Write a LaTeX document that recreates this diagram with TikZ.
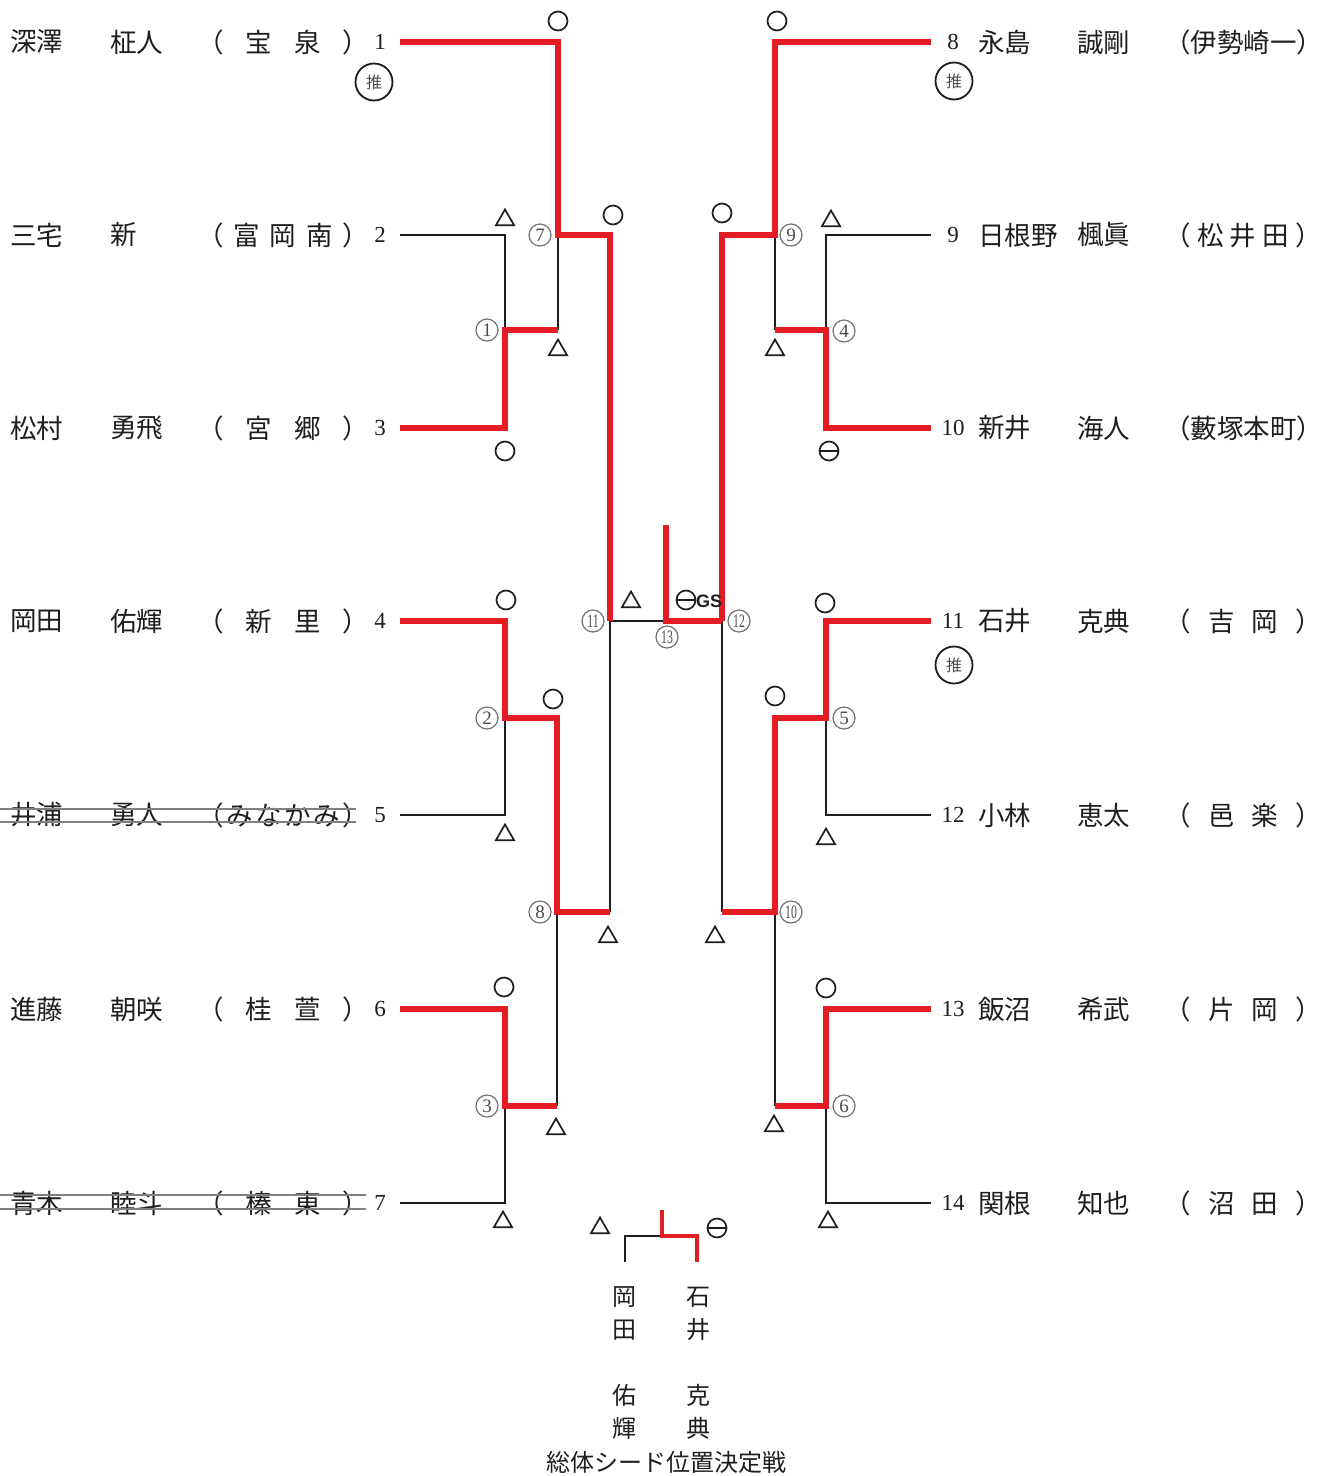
\documentclass[tikz,border=0pt]{standalone}
\usepackage{fontspec}
\usepackage{graphicx}
\setmainfont{Liberation Serif}
\newfontfamily\jp{Noto Sans CJK JP}
\newfontfamily\lsans{Liberation Sans}
\usetikzlibrary{shapes.geometric}
\definecolor{bred}{RGB}{228,28,36}
\definecolor{bgray}{RGB}{30,30,30}
\newcommand{\sch}[1]{\makebox[166pt][s]{#1\kern-6pt}}
\newcommand{\schR}[1]{\makebox[155pt][s]{#1\kern-3pt}}
\newcommand{\dd}[1]{\scalebox{0.62}[1]{#1}}
\tikzset{
  redln/.style={draw=bred,line width=6pt,line join=miter,line cap=butt},
  blkln/.style={draw=bgray,line width=1.9pt,line join=miter},
  win/.style={circle,draw=bgray,line width=1.7pt,minimum size=19pt,inner sep=0pt},
  lose/.style={regular polygon,regular polygon sides=3,draw=bgray,line width=1.7pt,minimum size=21pt,inner sep=0pt},
  drawmark/.style={circle,draw=bgray,line width=1.7pt,minimum size=19pt,inner sep=0pt,
     path picture={\draw[bgray,line width=1.7pt] (path picture bounding box.west) -- (path picture bounding box.east);}},
  cnum/.style={circle,draw=black!55,line width=1.2pt,minimum size=22pt,inner sep=0pt,font=\fontsize{19}{19}\selectfont,text=black!70,fill=white},
  suisen/.style={circle,draw=bgray,line width=1.8pt,minimum size=37pt,inner sep=0pt,font=\jp\fontsize{16}{16}\selectfont,text=black!70},
  nm/.style={anchor=west,inner sep=0pt,font=\jp\fontsize{26.5}{26.5}\selectfont,text=bgray},
  num/.style={inner sep=0pt,font=\fontsize{23}{23}\selectfont,text=bgray},
  strike/.style={draw=black!50,line width=1.3pt},
  vname/.style={inner sep=0pt,font=\jp\fontsize{24}{24}\selectfont,text=bgray}
}
\begin{document}
\begin{tikzpicture}[x=1pt,y=-1pt]
\useasboundingbox (0,0) rectangle (1322,1476);
\fill[white] (0,0) rectangle (1322,1476);

% ---------- left names ----------
\foreach \n/\f/\g/\s/\y in {1/深澤/柾人/（\hfill 宝\hfill 泉\hfill ）/42,
  2/三宅/新/（\hfill 富\hfill 岡\hfill 南\hfill ）/235,
  3/松村/勇飛/（\hfill 宮\hfill 郷\hfill ）/428,
  4/岡田/佑輝/（\hfill 新\hfill 里\hfill ）/621,
  5/井浦/勇人/（\hfill み\hfill な\hfill か\hfill み\hfill ）/815,
  6/進藤/朝咲/（\hfill 桂\hfill 萱\hfill ）/1009,
  7/青木/睦斗/（\hfill 榛\hfill 東\hfill ）/1203}{
  \node[nm] (lf\n) at (10,\y) {\f};
  \node[nm] (lg\n) at (110,\y) {\g};
  \node[nm] (ls\n) at (197,\y) {\sch{\s}};
  \node[num] (ln\n) at (380,\y) {\n};
}
% strike-through of withdrawn entries
\draw[strike] (0,809) -- (356,809) (0,822) -- (356,822);
\draw[strike] (0,1195) -- (366,1195) (0,1209) -- (366,1209);

% ---------- right names ----------
\foreach \n/\f/\g/\s/\y in {8/永島/誠剛/（伊\hfill 勢\hfill 崎\hfill 一）/42,
  9/日根野/楓眞/（\hfill 松\hfill 井\hfill 田\hfill ）/235,
  10/新井/海人/（藪\hfill 塚\hfill 本\hfill 町）/428,
  11/石井/克典/（\hfill 吉\hfill 岡\hfill ）/621,
  12/小林/恵太/（\hfill 邑\hfill 楽\hfill ）/815,
  13/飯沼/希武/（\hfill 片\hfill 岡\hfill ）/1009,
  14/関根/知也/（\hfill 沼\hfill 田\hfill ）/1203}{
  \node[num] (rn\n) at (953,\y) {\n};
  \node[nm] (rf\n) at (978,\y) {\f};
  \node[nm] (rg\n) at (1077,\y) {\g};
  \node[nm] (rs\n) at (1164,\y) {\schR{\s}};
}

% suisen marks
\node[suisen] (sui1) at (374,82) {推};
\node[suisen] (sui8) at (954,81) {推};
\node[suisen] (sui11) at (954,665) {推};

% ---------- bracket coordinates ----------
\coordinate (a1) at (400,42);   \coordinate (a2) at (400,235);
\coordinate (a3) at (400,428);  \coordinate (a4) at (400,621);
\coordinate (a5) at (400,815);  \coordinate (a6) at (400,1009);
\coordinate (a7) at (400,1203);
\coordinate (b8) at (931,42);   \coordinate (b9) at (931,235);
\coordinate (b10) at (931,428); \coordinate (b11) at (931,621);
\coordinate (b12) at (931,815); \coordinate (b13) at (931,1009);
\coordinate (b14) at (931,1203);
\coordinate (j1) at (505,330);  \coordinate (j2) at (505,718);
\coordinate (j3) at (505,1106); \coordinate (j7) at (558,235);
\coordinate (j8) at (557,912);  \coordinate (j11) at (610,621);
\coordinate (j4) at (826,330);  \coordinate (j5) at (826,718);
\coordinate (j6) at (826,1106); \coordinate (j9) at (775,235);
\coordinate (j10) at (775,912); \coordinate (j12) at (722,621);
\coordinate (j13) at (666,621); \coordinate (top) at (666,525);

% ---------- black (losing) lines ----------
\draw[blkln] (a2) -| (j1);
\draw[blkln] (558,330) -- (j7);
\draw[blkln] (a5) -| (j2);
\draw[blkln] (a7) -| (j3);
\draw[blkln] (557,1106) -- (j8);
\draw[blkln] (610,912) -- (j11);
\draw[blkln] (j11) -- (j13);
\draw[blkln] (b9) -| (j4);
\draw[blkln] (775,330) -- (j9);
\draw[blkln] (b12) -| (j5);
\draw[blkln] (b14) -| (j6);
\draw[blkln] (775,1106) -- (j10);
\draw[blkln] (722,912) -- (j12);

% ---------- red (winning) lines ----------
\draw[redln] (a1) -| (j7) -- (610,235) -- (j11);
\draw[redln] (a3) -| (j1) -- (558,330);
\draw[redln] (a4) -| (j2) -- (557,718) -- (j8) -- (610,912);
\draw[redln] (a6) -| (j3) -- (557,1106);
\draw[redln] (top) -- (j13) -- (j12);
\draw[redln] (b8) -| (j9) -- (722,235) -- (j12);
\draw[redln] (b10) -| (j4) -- (775,330);
\draw[redln] (b11) -| (j5) -- (775,718) -- (j10) -- (722,912);
\draw[redln] (b13) -| (j6) -- (775,1106);

% ---------- result marks ----------
\foreach \x/\y [count=\i] in {558/21,505/451,613/215,506/600,553/699,504/987,
   777/21,722/213,825/603,775/696,826/988}
  \node[win] (w\i) at (\x,\y) {};
\foreach \x/\y [count=\i] in {505/220,558/350,505/835,608/937,556/1129,503/1222,631/602,
   831/221,775/350,826/839,715/937,774/1126,828/1222,600/1228}
  \node[lose] (t\i) at (\x,\y) {};
\node[drawmark] (d1) at (829,451) {};
\node[drawmark] (d2) at (686,600) {};
\node[anchor=west,inner sep=0pt,font=\lsans\bfseries\fontsize{18}{18}\selectfont,text=bgray] (gs) at (696,601) {GS};
\node[drawmark] (d3) at (717,1228) {};

% ---------- match numbers ----------
\node[cnum] (m1) at (487,330) {1};
\node[cnum] (m2) at (487,718) {2};
\node[cnum] (m3) at (487,1106) {3};
\node[cnum] (m4) at (844,331) {4};
\node[cnum] (m5) at (844,718) {5};
\node[cnum] (m6) at (844,1106) {6};
\node[cnum] (m7) at (540,235) {7};
\node[cnum] (m8) at (540,912) {8};
\node[cnum] (m9) at (791,235) {9};
\node[cnum] (m10) at (791,912) {\dd{10}};
\node[cnum] (m11) at (593,621) {\dd{11}};
\node[cnum] (m12) at (739,621) {\dd{12}};
\node[cnum] (m13) at (667,637) {\dd{13}};

% ---------- seed play-off ----------
\coordinate (p1) at (625,1262); \coordinate (p2) at (697,1262);
\coordinate (pm) at (662,1236); \coordinate (pt) at (662,1210);
\draw[blkln,line width=2.8pt] (p1) |- (pm);
\draw[redln,line width=4pt] (pt) -- (pm) -| (p2);
\node[vname] (o1) at (624,1297) {岡};
\node[vname] (o2) at (624,1330) {田};
\node[vname] (o3) at (624,1395) {佑};
\node[vname] (o4) at (624,1428) {輝};
\node[vname] (i1) at (698,1297) {石};
\node[vname] (i2) at (698,1330) {井};
\node[vname] (i3) at (698,1395) {克};
\node[vname] (i4) at (698,1428) {典};
\node[vname] (cap) at (666,1462) {総体シード位置決定戦};
\end{tikzpicture}
\end{document}
